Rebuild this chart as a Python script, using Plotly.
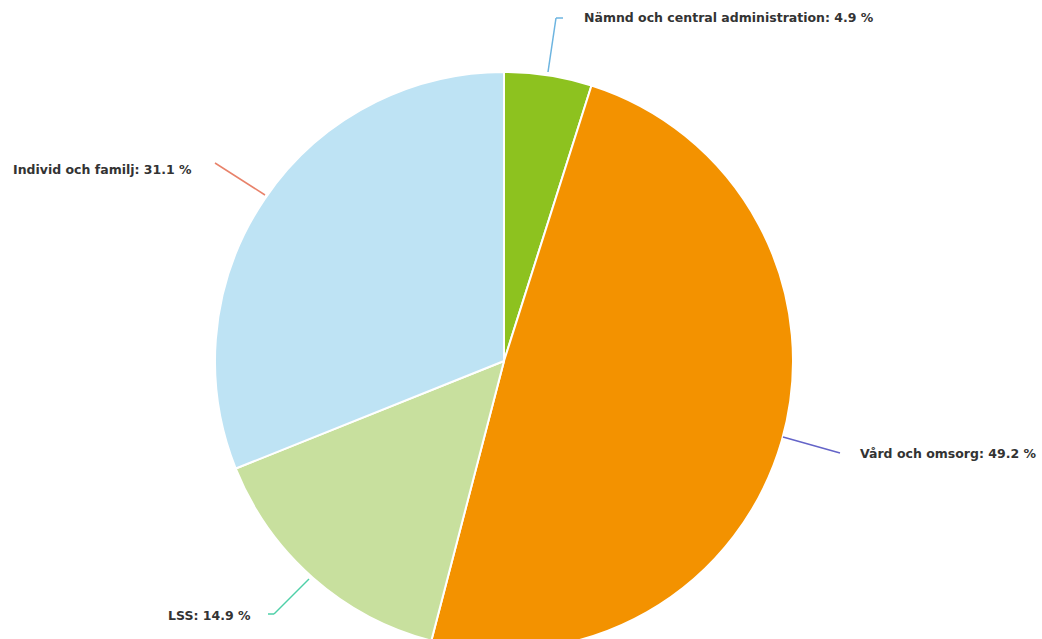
import plotly.graph_objects as go

labels = ["Nämnd och central administration", "Vård och omsorg", "LSS", "Individ och familj"]
values = [4.9, 49.2, 14.9, 31.1]
colors = ["#8DC21F", "#F39200", "#C8E09E", "#BEE3F4"]
line_colors = ["#6CB4E0", "#6464C8", "#4ED0A8", "#E8826A"]

W, H = 1042, 660

def px(x, y):
    return x / W, 1 - y / H

# label layout (pixel positions): text anchor, leader line points
label_layout = [
    dict(text_xy=(582, 18), xanchor="left", pts=[(548, 72), (556, 18), (563, 18)]),
    dict(text_xy=(858, 453), xanchor="left", pts=[(783, 437), (840, 453)]),
    dict(text_xy=(253, 615), xanchor="right", pts=[(309, 579), (274, 614), (268, 614)]),
    dict(text_xy=(194, 169), xanchor="right", pts=[(265, 195), (215, 163)]),
]

cx, cy, r = 504, 361, 289
fig = go.Figure(go.Pie(
    labels=labels, values=values, sort=False, direction="clockwise", rotation=0,
    marker=dict(colors=colors, line=dict(color="white", width=2)),
    textinfo="none", hoverinfo="label+percent", showlegend=False,
    domain=dict(x=[(cx - r) / W, (cx + r) / W], y=[1 - (cy + r) / H, 1 - (cy - r) / H]),
))

annotations = []
shapes = []
for lab, val, lc, lay in zip(labels, values, line_colors, label_layout):
    tx, ty = px(*lay["text_xy"])
    annotations.append(dict(
        x=tx, y=ty, xref="paper", yref="paper", showarrow=False,
        text=f"{lab}: {val} %", xanchor=lay["xanchor"], yanchor="middle",
        font=dict(family="DejaVu Sans", size=12.5, color="#333333", weight="bold"),
    ))
    pts = lay["pts"]
    for (x0, y0), (x1, y1) in zip(pts[:-1], pts[1:]):
        a0, b0 = px(x0, y0)
        a1, b1 = px(x1, y1)
        shapes.append(dict(type="line", xref="paper", yref="paper",
                           x0=a0, y0=b0, x1=a1, y1=b1,
                           line=dict(color=lc, width=1.5)))

fig.update_layout(
    width=W, height=H, margin=dict(l=0, r=0, t=0, b=0),
    paper_bgcolor="white", plot_bgcolor="white",
    annotations=annotations, shapes=shapes,
)

fig.write_html("out.html", config={"displayModeBar": False},
               post_script="document.body.style.margin='0';document.body.style.overflow='hidden';")
